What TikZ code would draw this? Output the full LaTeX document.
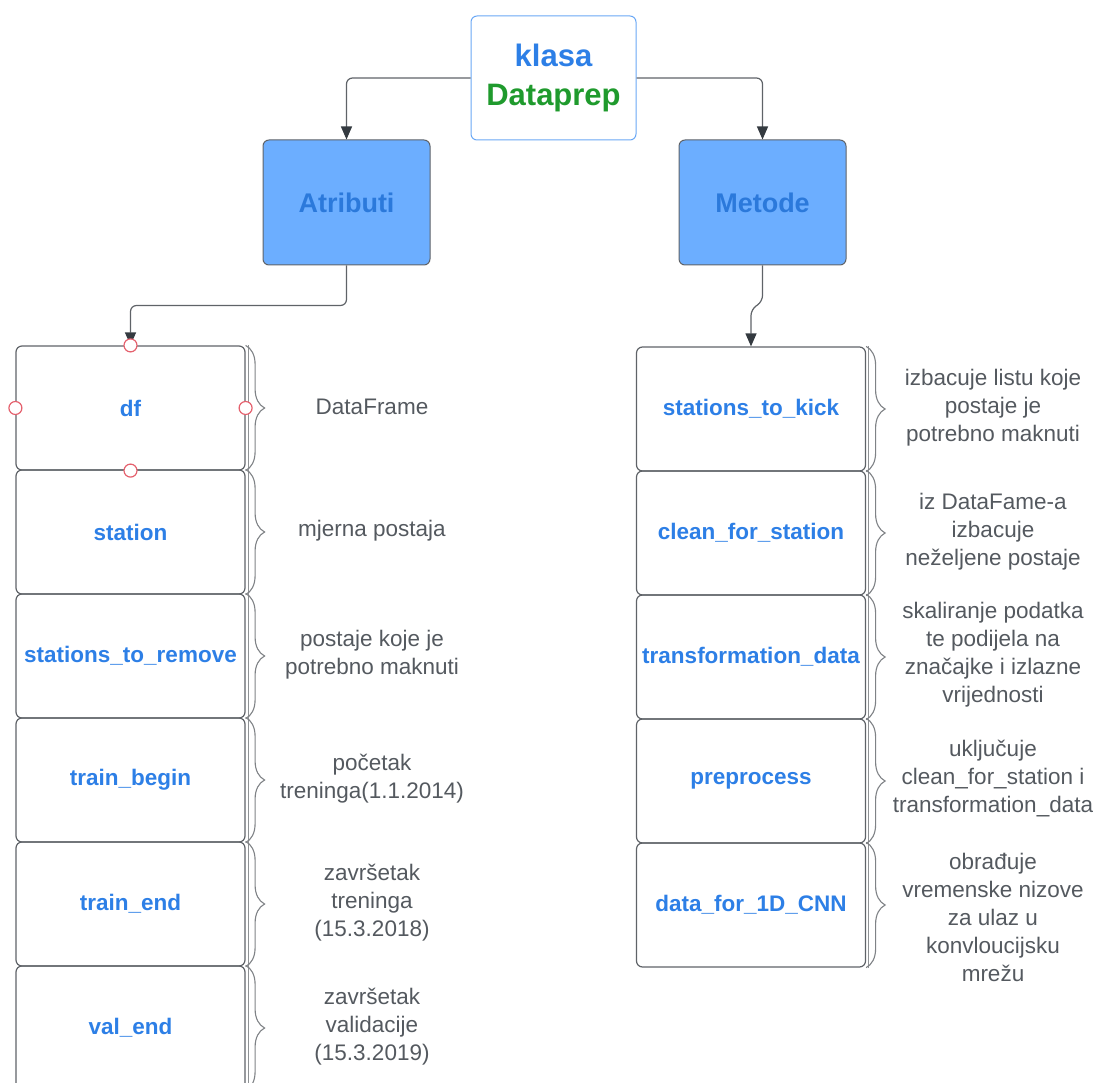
\documentclass[tikz,border=0pt]{standalone}
\usepackage{fontspec}
\setmainfont{Liberation Sans}
\usetikzlibrary{arrows.meta,decorations.pathreplacing}
\definecolor{lineg}{HTML}{5F6368}
\definecolor{arrowdark}{HTML}{343A40}
\definecolor{txtblue}{HTML}{2D7FE6}
\definecolor{fillblue}{HTML}{6CAEFF}
\definecolor{dpgreen}{HTML}{1F9A2D}
\definecolor{descg}{HTML}{54595F}
\definecolor{handlered}{HTML}{E5616E}
\definecolor{topborder}{HTML}{6AA8F5}

\begin{document}
\begin{tikzpicture}[x=1pt,y=-1pt,
    classbox/.style={draw=topborder, line width=1pt, rounded corners=6pt, minimum width=165pt, minimum height=124pt, align=center, font=\fontsize{31}{39}\selectfont\bfseries},
    group/.style={draw=lineg, line width=1pt, fill=fillblue, rounded corners=6pt, minimum width=167pt, minimum height=125pt, font=\fontsize{27}{32}\selectfont\bfseries, text=txtblue!95!black},
    field/.style={draw=lineg, line width=1.2pt, rounded corners=6pt, minimum width=229pt, minimum height=124pt, inner sep=0pt, font=\fontsize{22.5}{27}\selectfont\bfseries, text=txtblue},
    desc/.style={align=center, text=descg, font=\fontsize{22.5}{28}\selectfont},
    link/.style={draw=lineg, line width=1.2pt, rounded corners=6pt, -{Triangle[length=13pt,width=11pt,color=arrowdark]}},
    curly/.style={draw=lineg!80, line width=1.1pt, decorate, decoration={brace, amplitude=19pt}},
    handle/.style={circle, draw=handlered, fill=white, line width=1.2pt, minimum size=13pt, inner sep=0pt}]
    \useasboundingbox (0,0) rectangle (1097,1083);
    \clip (0,0) rectangle (1097,1083);

    \node[classbox] (cls) at (553.5,78) {\textcolor{txtblue}{klasa}\\\textcolor{dpgreen}{Dataprep}};
    \node[group] (attr) at (346.5,202.5) {Atributi};
    \node[group] (meth) at (762.5,202.5) {Metode};

    \node[field] (df) at (130.5,408) {df};
    \node[field] (st) at (130.5,532) {station};
    \node[field] (str) at (130.5,656) {stations\_to\_remove};
    \node[field] (tb) at (130.5,780) {train\_begin};
    \node[field] (te) at (130.5,904) {train\_end};
    \node[field] (ve) at (130.5,1028) {val\_end};

    \node[field] (sk) at (751,409) {stations\_to\_kick};
    \node[field] (cfs) at (751,533) {clean\_for\_station};
    \node[field] (td) at (751,657) {transformation\_data};
    \node[field] (pp) at (751,781) {preprocess};
    \node[field] (cnn) at (751,905) {data\_for\_1D\_CNN};

    \foreach \b in {df,st,str,tb,te,ve,sk,cfs,td,pp,cnn} {
        \draw[lineg!70, line width=0.8pt] ([xshift=2.5pt]\b.north east) -- ([xshift=2.5pt]\b.south east);
        \draw[curly] (\b.north east) -- (\b.south east);
    }

    \node[desc] (ddf) at (372,407) {DataFrame};
    \node[desc] (dst) at (372,531) {mjerna postaja};
    \node[desc] (dstr) at (372,655) {postaje koje je\\potrebno maknuti};
    \node[desc] (dtb) at (372,779) {početak\\treninga(1.1.2014)};
    \node[desc] (dte) at (372,903) {završetak\\treninga\\(15.3.2018)};
    \node[desc] (dve) at (372,1027) {završetak\\validacije\\(15.3.2019)};

    \node[desc] (dsk) at (993,408) {izbacuje listu koje\\postaje je\\potrebno maknuti};
    \node[desc] (dcfs) at (993,532) {iz DataFame-a\\izbacuje\\neželjene postaje};
    \node[desc] (dtd) at (993,655) {skaliranje podatka\\te podijela na\\značajke i izlazne\\vrijednosti};
    \node[desc] (dpp) at (993,779) {uključuje\\clean\_for\_station i\\transformation\_data};
    \node[desc] (dcnn) at (993,917) {obrađuje\\vremenske nizove\\za ulaz u\\konvloucijsku\\mrežu};

    \draw[link] (cls.west) -| (attr.north);
    \draw[link] (cls.east) -| (meth.north);
    \draw[link] (attr.south) -- ++(0,40) -| (df.north);
    \draw[link] (meth.south) -- ++(0,36) -- ++(-11.5,8) -- (sk.north);

    \node[handle] (hn) at (df.north) {};
    \node[handle] (hw) at (df.west) {};
    \node[handle] (he) at (df.east) {};
    \node[handle] (hs) at (df.south) {};
\end{tikzpicture}
\end{document}
